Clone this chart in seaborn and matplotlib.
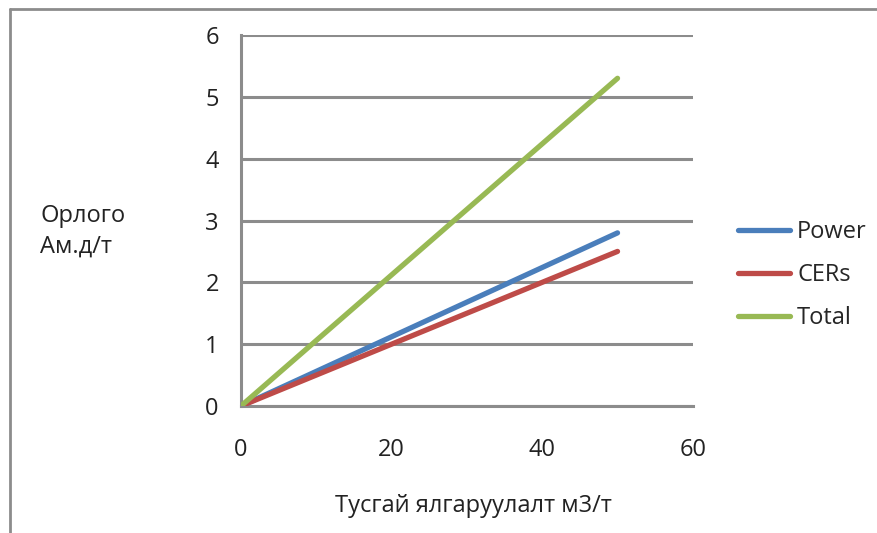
import matplotlib
matplotlib.use("Agg")
import matplotlib.pyplot as plt
import seaborn as sns
import pandas as pd
from matplotlib.lines import Line2D

# Emission values by specific release rate
release = [0, 50]
power = [0, 2.8]
cers = [0, 2.5]
total = [0, 5.3]
series_names = ["Power", "CERs", "Total"]
x_ticks = [0, 20, 40, 60]
y_ticks = [0, 1, 2, 3, 4, 5, 6]

sns.set_theme(style="white")
plt.rcParams["font.family"] = ["Open Sans", "DejaVu Sans"]

df = pd.DataFrame({
    "x": release * 3,
    "y": power + cers + total,
    "series": [series_names[0]] * len(release)
              + [series_names[1]] * len(release)
              + [series_names[2]] * len(release),
})

colors = {"Power": "#4a7ebb", "CERs": "#be4b48", "Total": "#98b954"}
grid_c = "#8c8c8c"
txt_c = "#222222"
fs = 17

fig = plt.figure(figsize=(8.77, 5.33), dpi=100)
ax = fig.add_axes([0.2748, 0.2383, 0.790 - 0.2748, 0.9343 - 0.2383])

sns.lineplot(data=df, x="x", y="y", hue="series", palette=colors,
             linewidth=3.8, ax=ax, legend=False, zorder=3,
             solid_capstyle="round")

ax.set_xlim(0, 60)
ax.set_ylim(0, 6)
ax.set_xticks(x_ticks)
ax.set_yticks(y_ticks)
ax.yaxis.grid(True, color=grid_c, linewidth=2.2)
ax.xaxis.grid(False)
for s in ["top", "right"]:
    ax.spines[s].set_visible(False)
for s in ["left", "bottom"]:
    ax.spines[s].set_color(grid_c)
    ax.spines[s].set_linewidth(2.2)
ax.tick_params(axis="both", which="both", direction="out", length=7,
               width=2.2, color=grid_c, labelsize=fs, labelcolor=txt_c)
ax.tick_params(axis="y", pad=9)
ax.tick_params(axis="x", pad=16)
ax.set_xlabel("")
ax.set_ylabel("")

fig.text(40 / 877, 1 - 216 / 533, "Орлого", fontsize=fs, va="center",
         ha="left", color=txt_c)
fig.text(40 / 877, 1 - 247 / 533, "Ам.д/т", fontsize=fs, va="center",
         ha="left", color=txt_c)
fig.text(473 / 877, 1 - 506 / 533, "Тусгай ялгаруулалт м3/т", fontsize=fs,
         va="center", ha="center", color=txt_c)

handles = [Line2D([0], [0], color=colors[n], linewidth=3.8) for n in series_names]
fig.legend(handles, series_names, loc="center left",
           bbox_to_anchor=(738 / 877, 1 - 275 / 533), frameon=False,
           fontsize=fs, handlelength=2.2, handletextpad=0.3,
           labelspacing=0.8, borderaxespad=0, borderpad=0)

# Figure frame along the top and left edges
fig.add_artist(Line2D([10 / 877, 10 / 877], [0, 1 - 9 / 533],
                      transform=fig.transFigure, color="#8c8c8c", linewidth=2))
fig.add_artist(Line2D([10 / 877, 1], [1 - 9 / 533, 1 - 9 / 533],
                      transform=fig.transFigure, color="#8c8c8c", linewidth=2))

fig.savefig("out.png", dpi=100, facecolor="white")
